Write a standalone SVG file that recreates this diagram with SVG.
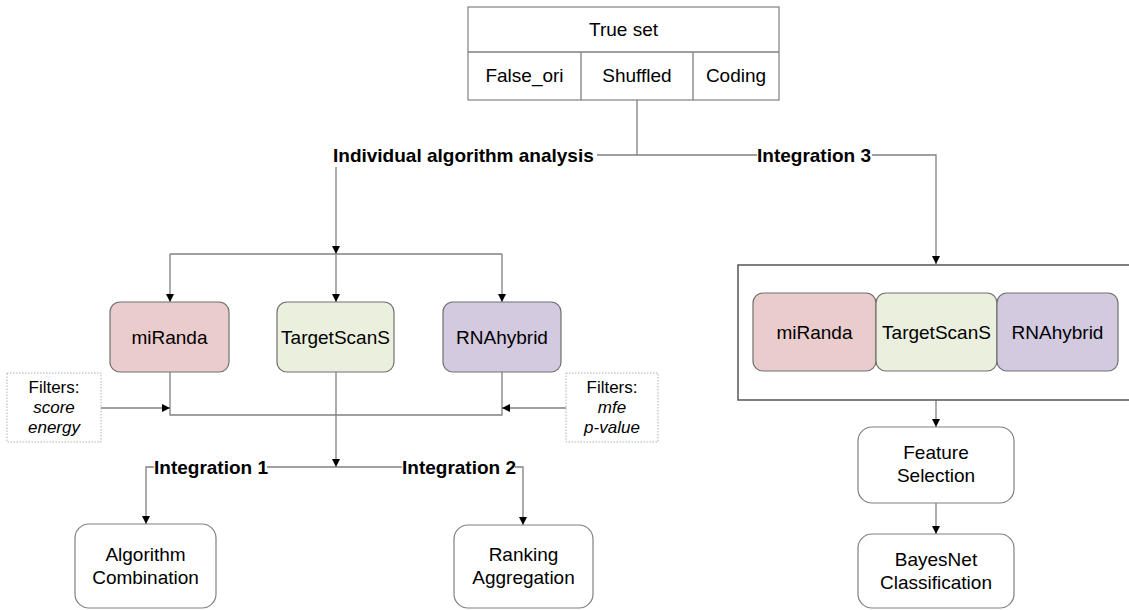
<svg xmlns="http://www.w3.org/2000/svg" width="1129" height="610" viewBox="0 0 1129 610">
<defs>
<marker id="arr" viewBox="0 0 10 10" refX="10" refY="5" markerWidth="8" markerHeight="8" markerUnits="userSpaceOnUse" orient="auto">
<path d="M0,0 L10,5 L0,10 z" fill="#000"/>
</marker>
<style>
text{font-family:"Liberation Sans",Arial,sans-serif;fill:#000}
.t{font-size:19px;text-anchor:middle}
.b{font-size:19px;font-weight:bold}
.f{font-size:17px;text-anchor:middle}
.i{font-style:italic}
.c{fill:none;stroke:#808080;stroke-width:1.3}
.a{marker-end:url(#arr)}
.n{fill:#fff;stroke:#808080;stroke-width:1.2}
.r{fill:#ebcccc;stroke:#707070;stroke-width:1.2}
.g{fill:#ebf0de;stroke:#707070;stroke-width:1.2}
.p{fill:#d3cae0;stroke:#707070;stroke-width:1.2}
.d{fill:#fff;stroke:#b0b0b0;stroke-width:1;stroke-dasharray:1.5,1.5}
</style>
</defs>
<rect width="1129" height="610" fill="#fff"/>

<g id="connectors">
<path class="c" d="M637,100 V155 M597,155 H757"/>
<path class="c a" d="M872,155 H936 V264"/>
<path class="c a" d="M336,167 V254"/>
<path class="c" d="M170,254 H502"/>
<path class="c a" d="M170,254 V302"/>
<path class="c a" d="M336,254 V302"/>
<path class="c a" d="M502,254 V302"/>
<path class="c" d="M170,372 V415 H502 V372"/>
<path class="c a" d="M336,372 V467"/>
<path class="c a" d="M101,408 H170"/>
<path class="c a" d="M566,408 H502"/>
<path class="c" d="M267,467 H402"/>
<path class="c a" d="M154,467 H146 V524"/>
<path class="c a" d="M515,467 H523 V525"/>
<path class="c a" d="M936,400 V427"/>
<path class="c a" d="M936,503 V534"/>
</g>

<g id="trueset">
<rect class="n" x="468" y="7" width="311" height="93"/>
<path class="c" d="M468,52 H779 M581,52 V100 M693,52 V100"/>
<text class="t" x="623.5" y="36">True set</text>
<text class="t" x="524.5" y="82">False_ori</text>
<text class="t" x="637" y="82">Shuffled</text>
<text class="t" x="736" y="82">Coding</text>
</g>

<g id="label-individual"><text class="b" x="333" y="162">Individual algorithm analysis</text></g>
<g id="label-int3"><text class="b" x="757" y="162">Integration 3</text></g>
<g id="label-int1"><text class="b" x="154" y="474">Integration 1</text></g>
<g id="label-int2"><text class="b" x="402" y="474">Integration 2</text></g>

<g id="miranda">
<rect class="r" x="110" y="302" width="119" height="70" rx="10"/>
<text class="t" x="169.5" y="344">miRanda</text>
</g>
<g id="targetscans">
<rect class="g" x="277" y="302" width="117" height="70" rx="10"/>
<text class="t" x="335.5" y="344">TargetScanS</text>
</g>
<g id="rnahybrid">
<rect class="p" x="443" y="302" width="118" height="70" rx="10"/>
<text class="t" x="502" y="344">RNAhybrid</text>
</g>

<g id="filters-left">
<rect class="d" x="7" y="373" width="94" height="69"/>
<text class="f" x="54" y="393">Filters:</text>
<text class="f i" x="54" y="413">score</text>
<text class="f i" x="54" y="433">energy</text>
</g>
<g id="filters-right">
<rect class="d" x="566" y="373" width="92" height="69"/>
<text class="f" x="612" y="393">Filters:</text>
<text class="f i" x="612" y="413">mfe</text>
<text class="f i" x="612" y="433">p-value</text>
</g>

<g id="algcomb">
<rect class="n" x="75" y="524" width="141" height="84" rx="14"/>
<text class="t" x="145.5" y="561">Algorithm</text>
<text class="t" x="145.5" y="584">Combination</text>
</g>
<g id="rankagg">
<rect class="n" x="454" y="525" width="139" height="83" rx="14"/>
<text class="t" x="523.5" y="561">Ranking</text>
<text class="t" x="523.5" y="584">Aggregation</text>
</g>

<g id="integration3-box">
<rect x="738" y="265" width="400" height="135" fill="#fff" stroke="#555" stroke-width="1.5"/>
<rect class="r" x="753" y="293" width="123" height="78" rx="10"/>
<text class="t" x="814.5" y="339">miRanda</text>
<rect class="g" x="876" y="293" width="121" height="78" rx="10"/>
<text class="t" x="936.5" y="339">TargetScanS</text>
<rect class="p" x="997" y="293" width="121" height="78" rx="10"/>
<text class="t" x="1057.5" y="339">RNAhybrid</text>
</g>

<g id="featsel">
<rect class="n" x="858" y="427" width="156" height="76" rx="14"/>
<text class="t" x="936" y="459">Feature</text>
<text class="t" x="936" y="482">Selection</text>
</g>
<g id="bayesnet">
<rect class="n" x="858" y="534" width="156" height="74" rx="14"/>
<text class="t" x="936" y="566">BayesNet</text>
<text class="t" x="936" y="589">Classification</text>
</g>
</svg>
